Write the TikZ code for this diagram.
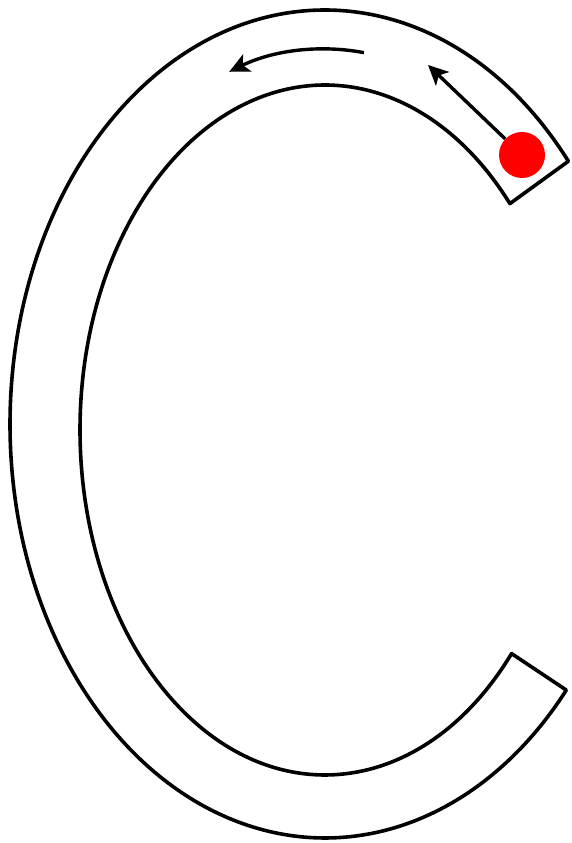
\documentclass[tikz,border=0pt]{standalone}
\usetikzlibrary{arrows.meta,calc}
\definecolor{dotred}{HTML}{FF0000}

\begin{document}
\begin{tikzpicture}[
    x=1pt,y=1pt,
    track/.style={draw=black,line width=3.6pt,line join=round},
    arr/.style={-{Stealth[length=20pt,width=19pt,inset=5pt]},line width=3.4pt,black},
    ball/.style={circle,fill=dotred,inner sep=0pt,minimum size=46pt}
]
\useasboundingbox (0,0) rectangle (571,843);
% centres of the outer, inner and middle ellipses
\coordinate (oc) at (325,419);
\coordinate (ic) at (325,413);
\coordinate (mc) at (325,416);

% the C-shaped track
\draw[track] ($(oc)+(39.4:315 and 414)$)
    arc[start angle=39.4,end angle=320,x radius=315,y radius=414]
    -- ($(ic)+(319.6:245 and 345)$)
    arc[start angle=319.6,end angle=41,x radius=245,y radius=345]
    -- cycle;

% ball and direction arrows
\node[ball] (dot) at (522,688) {};
\coordinate (tipA) at (428,778);
\draw[arr] (dot) -- (tipA);
\coordinate (startB) at ($(mc)+(82:280 and 378)$);
\draw[arr] (startB) arc[start angle=82,end angle=110,x radius=280,y radius=378];
\end{tikzpicture}
\end{document}
